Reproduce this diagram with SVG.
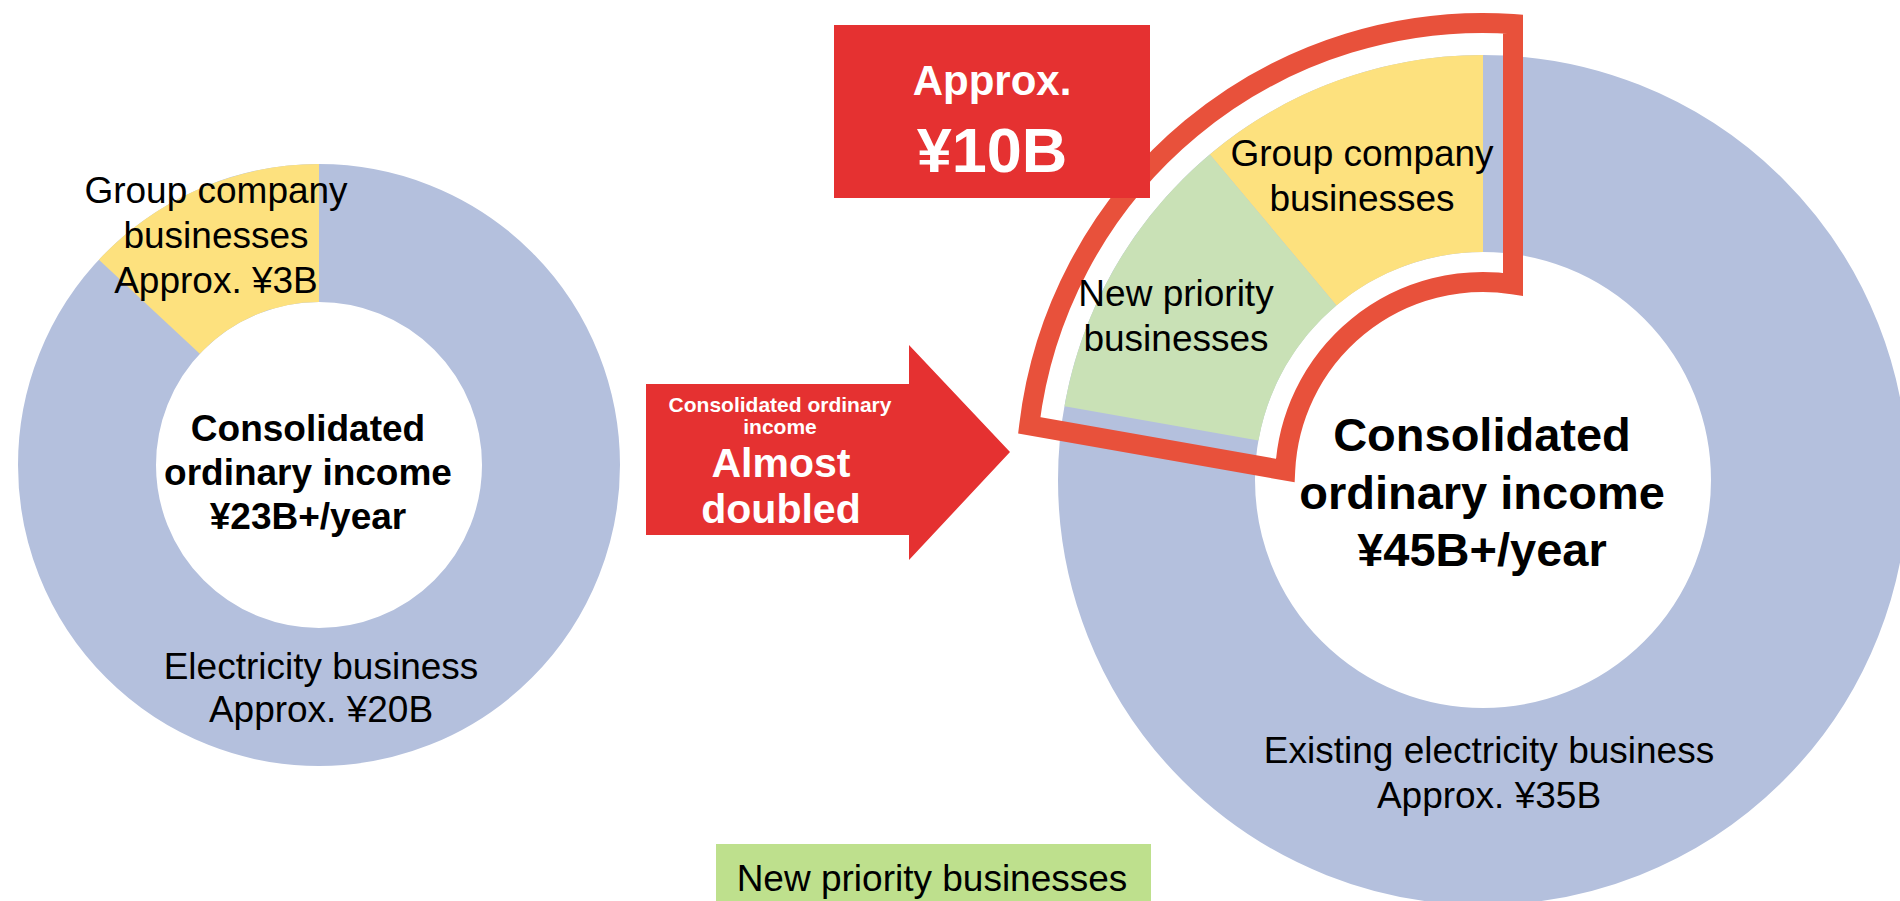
<svg xmlns="http://www.w3.org/2000/svg" width="1900" height="901" viewBox="0 0 1900 901">
<style>
.t{font-family:"Liberation Sans",Arial,sans-serif;fill:#000;text-anchor:middle}
.r{font-size:37px}
.b{font-weight:bold}
.w{fill:#fff}
.ring{fill:none;stroke:#B4C0DD}
.yel{fill:#FDE17E}
.grn{fill:#C9E1B6}
.red{fill:#E53131}
</style>
<rect width="1900" height="901" fill="#fff"/>
<g id="left-donut">
<circle class="ring" cx="319" cy="465" r="232" stroke-width="138"/>
<path class="yel" d="M319 164 A301 301 0 0 0 98.9 259.7 L199.8 353.8 A163 163 0 0 1 319 302 Z"/>
<text class="t r" x="216" y="203">Group company</text>
<text class="t r" x="216" y="248">businesses</text>
<text class="t r" x="216" y="293">Approx. ¥3B</text>
<text class="t b" font-size="37" x="308" y="441">Consolidated</text>
<text class="t b" font-size="37" x="308" y="485">ordinary income</text>
<text class="t b" font-size="37" x="308" y="529">¥23B+/year</text>
<text class="t r" x="321" y="679">Electricity business</text>
<text class="t r" x="321" y="722">Approx. ¥20B</text>
</g>
<g id="connectors">
<g id="arrow">
<polygon class="red" points="646,384 909,384 909,345 1010,452 909,560 909,535 646,535"/>
<text class="t b w" font-size="21" x="780" y="412">Consolidated ordinary</text>
<text class="t b w" font-size="21" x="780" y="434">income</text>
<text class="t b w" font-size="41" x="781" y="477">Almost</text>
<text class="t b w" font-size="41" x="781" y="523">doubled</text>
</g>
</g>
<g id="right-donut">
<circle class="ring" cx="1483" cy="480" r="326.5" stroke-width="197"/>
<path class="yel" d="M1483 55 A425 425 0 0 0 1209.8 154.4 L1336.4 305.4 A228 228 0 0 1 1483 252 Z"/>
<path class="grn" d="M1209.8 154.4 A425 425 0 0 0 1064.5 406.2 L1258.5 440.4 A228 228 0 0 1 1336.4 305.4 Z"/>
<path d="M1513 24 A457 457 0 0 0 1029.2 425.4 L1285.2 470.5 A198 198 0 0 1 1513 284.3 Z" fill="none" stroke="#E8513B" stroke-width="20"/>
<text class="t r" x="1362" y="166">Group company</text>
<text class="t r" x="1362" y="211">businesses</text>
<text class="t r" x="1176" y="306">New priority</text>
<text class="t r" x="1176" y="351">businesses</text>
<text class="t b" font-size="47" x="1482" y="451">Consolidated</text>
<text class="t b" font-size="47" x="1482" y="509">ordinary income</text>
<text class="t b" font-size="47" x="1482" y="566">¥45B+/year</text>
<text class="t r" x="1489" y="763">Existing electricity business</text>
<text class="t r" x="1489" y="808">Approx. ¥35B</text>
</g>
<g id="highlight-box">
<rect class="red" x="834" y="25" width="316" height="173"/>
<text class="t b w" font-size="42" x="992" y="95">Approx.</text>
<text class="t b w" font-size="63" x="992" y="172">¥10B</text>
</g>
<g id="legend">
<rect x="716" y="844" width="435" height="57" fill="#BEE08D"/>
<text class="t r" x="932" y="891">New priority businesses</text>
</g>
</svg>
